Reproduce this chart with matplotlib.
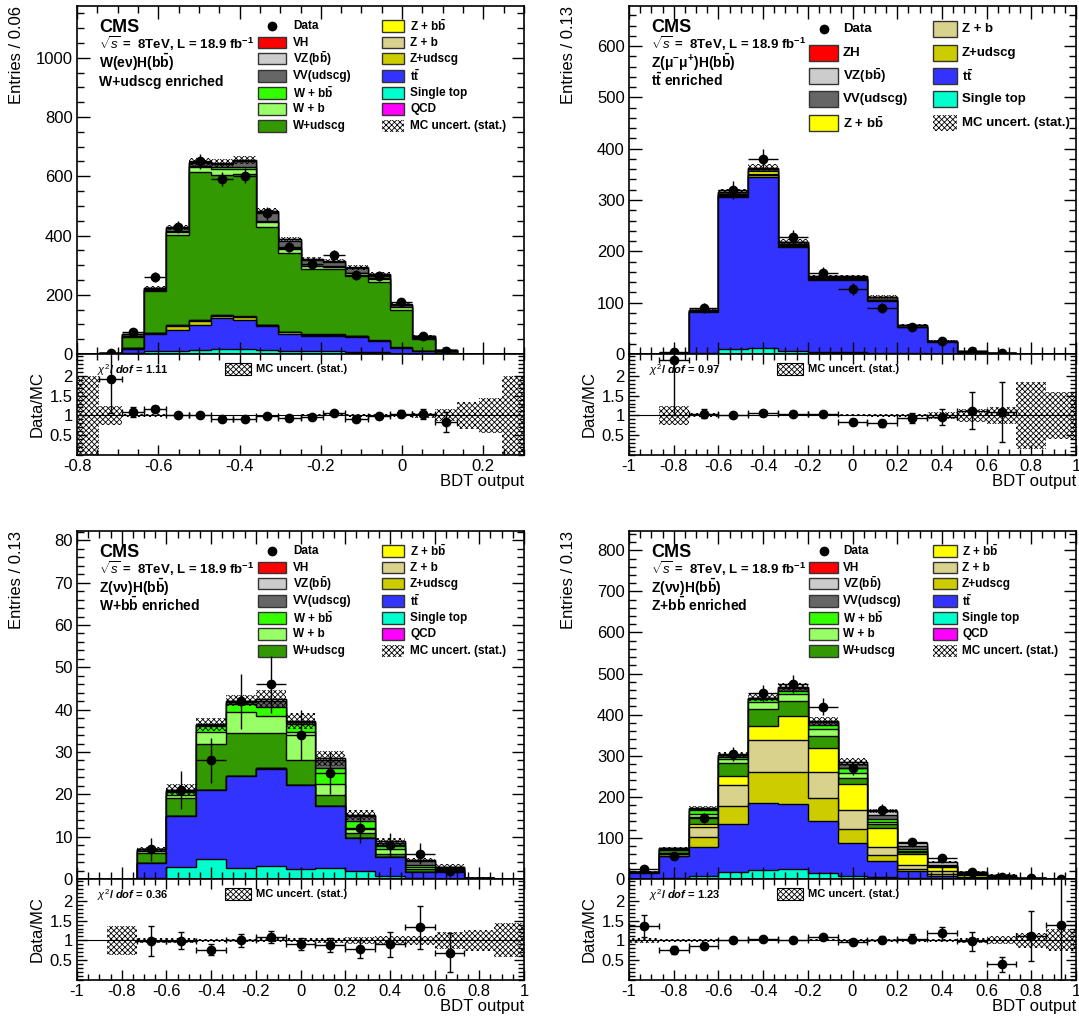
import matplotlib.pyplot as plt
import numpy as np
from matplotlib.patches import Rectangle
from matplotlib.ticker import MultipleLocator, FixedLocator, FuncFormatter

plt.rcParams['font.family'] = ['Liberation Sans', 'DejaVu Sans']
plt.rcParams['mathtext.fontset'] = 'custom'
plt.rcParams['mathtext.rm'] = 'Liberation Sans'
plt.rcParams['mathtext.it'] = 'Liberation Sans:italic'
plt.rcParams['mathtext.bf'] = 'Liberation Sans:bold'
plt.rcParams['mathtext.bfit'] = 'Liberation Sans:italic:bold'
plt.rcParams['hatch.linewidth'] = 0.6

# ---------------- data ----------------
# top-left: W(enu)H, W+udscg enriched (20 bins, -0.8 .. 0.3)
tl_edges = np.linspace(-0.8, 0.3, 21)
tl_st = [0.05, 0.3, 2, 9, 11, 12, 16, 18, 14, 9, 9, 9, 7, 6, 1, 0.5, 0.2, 0.05, 0.02, 0.01]
tl_tt = [0.1, 1.0, 16, 59, 71, 87, 104, 98, 80, 60, 51, 51, 49, 37, 19, 8, 2, 0.3, 0.1, 0.04]
tl_zu = [0, 0.1, 1, 3, 12, 12, 9, 8, 4, 4, 4, 4, 4, 2, 1, 0.6, 0.2, 0.05, 0.02, 0]
tl_zb = [0, 0, 0, 1, 3, 3, 2, 2, 0.5, 1, 1, 1, 1, 0.5, 0.5, 0.2, 0.05, 0, 0, 0]
tl_zbb = [0, 0, 0, 0, 2, 2, 2, 1, 0.5, 1, 1, 1, 1, 0.5, 0.5, 0.2, 0.05, 0, 0, 0]
tl_wu = [0.05, 0.8, 37, 140, 302, 498, 473, 481, 331, 267, 222, 220, 201, 198, 128, 42, 9, 0.35, 0.15, 0.05]
tl_wb = [0, 0.1, 5, 5, 12, 18, 20, 18, 16, 12, 8, 8, 9, 10, 8, 4, 0.5, 0.05, 0, 0]
tl_wbb = [0, 0, 1, 1, 3, 4, 4, 4, 4, 3, 2, 2, 3, 3, 2, 1, 0.2, 0, 0, 0]
tl_vv = [0, 0.2, 4, 5, 8, 10, 12, 20, 28, 25, 18, 15, 14, 10, 6, 3, 0.8, 0.05, 0.01, 0]
tl_vz = [0, 0.1, 1, 1, 2, 2, 3, 5, 6, 6, 4, 3, 3, 2, 1, 0.5, 0.1, 0, 0, 0]
tl_vh = [0, 0, 0, 0, 0.5, 0.5, 0.5, 0.5, 0.5, 0.5, 0.5, 0.5, 0.5, 0.3, 0.3, 0.2, 0.05, 0, 0, 0]
tl_data = [0, 5, 73, 260, 428, 650, 591, 602, 475, 362, 305, 333, 266, 263, 175, 62, 11, 0, 0, 0]
tl_rel = [1.0, 0.235, 0.03, 0.03, 0.02, 0.02, 0.02, 0.02, 0.02, 0.02, 0.025, 0.025, 0.03, 0.03,
          0.03, 0.07, 0.15, 0.35, 0.45, 1.0]

# top-right: Z(mumu)H, ttbar enriched (15 bins, -1 .. 1)
edges15 = np.linspace(-1, 1, 16)
tr_st = [0, 0, 1, 10, 12, 6.5, 4.5, 4.5, 2.5, 1.5, 0.5, 0.1, 0, 0, 0]
tr_tt = [0, 0.95, 80.5, 296, 333, 202.5, 140.5, 140.5, 101.5, 50.5, 23.5, 4.4, 1.5, 0.2, 0.05]
tr_zu = [0, 0, 1, 2, 3, 1.5, 1, 1, 0.5, 0.3, 0.1, 0, 0, 0, 0]
tr_zb = [0, 0, 0.5, 1.5, 2, 1, 0.5, 0.5, 0.3, 0.2, 0.1, 0, 0, 0, 0]
tr_zbb = [0, 0.1, 0.5, 3, 6, 3, 1, 1, 0.7, 0.5, 0.3, 0.2, 0, 0, 0]
tr_vv = [0, 0.2, 1.5, 3, 5, 3, 3, 3, 5, 3, 1.2, 0.5, 0.2, 0.1, 0.05]
tr_vz = [0, 0, 0.3, 0.5, 1, 0.5, 0.5, 0.5, 0.5, 0.5, 0.3, 0.1, 0.1, 0, 0]
tr_zh = [0, 0, 0, 0, 0, 0, 0, 0, 0.1, 0.1, 0.1, 0.05, 0.05, 0, 0]
tr_data = [0, 3, 89, 320, 380, 227, 157, 127, 89, 53, 25, 6, 2, 0, 0]
tr_rel = [0, 0.23, 0.05, 0.02, 0.02, 0.025, 0.025, 0.025, 0.03, 0.04, 0.08, 0.17, 0.21, 0.85, 0.6]

# bottom-left: Z(nunu)H, W+bb enriched
bl_st = [0, 0, 0.3, 2.9, 4.7, 2.6, 3.0, 2.4, 2.7, 1.8, 0.8, 0.2, 0.05, 0, 0]
bl_tt = [0, 0.05, 3.4, 12.0, 16.3, 21.7, 23.1, 19.7, 14.5, 7.8, 4.3, 1.5, 1.55, 0.15, 0.05]
bl_zu = [0, 0, 0, 0, 0.1, 0.1, 0.1, 0.1, 0.1, 0.1, 0.05, 0, 0, 0, 0]
bl_zb = [0] * 15
bl_zbb = [0] * 15
bl_wu = [0, 0.05, 2.4, 4.3, 10.8, 10.0, 8.3, 5.9, 2.6, 1.2, 0.75, 0.7, 0.6, 0.05, 0]
bl_wb = [0, 0, 0.4, 0.6, 2.9, 5.0, 4.1, 6.7, 2.6, 1.0, 1.1, 0.4, 0.2, 0, 0]
bl_wbb = [0, 0, 0.2, 0.7, 1.3, 1.9, 2.1, 1.7, 3.7, 1.9, 0.7, 0.5, 0.1, 0, 0]
bl_vv = [0, 0, 0.3, 0.4, 0.3, 0.6, 1.4, 0.6, 1.8, 1.1, 0.9, 0.9, 0.3, 0.1, 0.05]
bl_vz = [0, 0, 0.1, 0.2, 0.1, 0.2, 0.4, 0.2, 0.5, 0.3, 0.3, 0.3, 0.1, 0, 0]
bl_vh = [0] * 15
bl_data = [0, 0, 7, 21, 28, 42, 46, 34, 25, 12, 8, 6, 2, 0, 0]
bl_rel = [0, 0.37, 0.07, 0.06, 0.04, 0.03, 0.05, 0.05, 0.06, 0.08, 0.1, 0.12, 0.22, 0.27, 0.43]

# bottom-right: Z(nunu)H, Z+bb enriched
br_st = [0.5, 2.4, 6.5, 16, 23, 24.4, 14, 8, 5.7, 3, 1, 0.3, 0, 0, 0]
br_tt = [13.5, 54.6, 70.5, 118, 162, 157.6, 127, 80, 39.3, 16, 5.5, 1.7, 1, 0.3, 0.1]
br_zu = [0.5, 3, 25, 43, 76, 79, 55, 34, 14, 5, 5.5, 1.5, 1, 0.3, 0]
br_zb = [0.5, 2, 24, 53, 77, 77, 65, 47, 18, 10, 8, 2, 1.5, 0.4, 0.1]
br_zbb = [0.5, 1, 8.4, 21, 35, 59, 59, 63, 48, 27, 8.5, 3.5, 2, 0.6, 0.2]
br_wu = [1, 8, 16.6, 32.5, 40, 37, 29, 15, 8, 4, 1.5, 1, 0.5, 0, 0]
br_wb = [0, 2, 8, 9.5, 17, 16.5, 16, 10, 5.5, 4, 0.5, 0.5, 0, 0, 0]
br_wbb = [0, 1, 8, 4, 7.5, 7.5, 11, 12, 8.5, 4, 0.5, 0.5, 0, 0, 0]
br_vv = [0.7, 1.5, 4, 4, 3, 6, 5, 10, 8, 7, 4, 3, 2, 0.5, 0.15]
br_vz = [0.3, 0.5, 2, 2, 1, 3, 4, 5, 10, 7, 7, 3, 2, 0.5, 0.12]
br_vh = [0, 0, 0, 0, 0, 0, 0, 0, 0.5, 0.5, 0.5, 0.3, 0.2, 0.1, 0.05]
br_data = [24, 57, 149, 305, 452, 474, 419, 269, 169, 91, 50, 17, 4, 3, 1]
br_rel = [0.07, 0.04, 0.03, 0.02, 0.02, 0.02, 0.025, 0.035, 0.03, 0.03, 0.04, 0.06, 0.1, 0.18, 0.28]

colors = {'st': '#00ffcc', 'tt': '#3333ff', 'zu': '#cccc00', 'zb': '#d9d28c', 'zbb': '#ffff00',
          'wu': '#339900', 'wb': '#99ff66', 'wbb': '#33ff00', 'vv': '#666666', 'vz': '#cccccc',
          'vh': '#ff0000', 'qcd': '#ff00ff'}

BB = r'$\mathbf{b\bar{b}}$'
TT = r'$\mathbf{t\bar{t}}$'
labels = {'vh': 'VH', 'vz': 'VZ(' + BB + ')', 'vv': 'VV(udscg)', 'wbb': 'W + ' + BB,
          'wb': 'W + b', 'wu': 'W+udscg', 'zbb': 'Z + ' + BB, 'zb': 'Z + b', 'zu': 'Z+udscg',
          'tt': TT, 'st': 'Single top', 'qcd': 'QCD', 'zh': 'ZH'}

fmt = FuncFormatter(lambda v, p: '%g' % (round(v, 2) + 0.0))


def style(a, labelsize=12):
    a.tick_params(which='both', direction='in', top=True, right=True, labelsize=labelsize, pad=3)
    a.tick_params(which='major', length=9, width=1)
    a.tick_params(which='minor', length=5, width=1)
    for s in a.spines.values():
        s.set_linewidth(1.2)


def draw_panel(rect_main, rect_ratio, edges, stack, data, rel, ylim, ymajor, yminor, ylabel,
               info, chi2, legend, big_legend=False):
    data = np.array(data, float)
    rel = np.array(rel, float)
    ax = fig.add_axes(rect_main)
    rax = fig.add_axes(rect_ratio, sharex=ax)

    total = np.zeros(len(edges) - 1)
    cums = []
    for key, vals in stack:
        total = total + np.array(vals, float)
        cums.append((key, total.copy()))
    for key, cum in reversed(cums):
        ax.stairs(cum, edges, baseline=0, fill=True, facecolor=colors[key],
                  edgecolor='black', linewidth=1.0)
    ax.stairs(total * (1 + rel), edges, baseline=total * (1 - rel), fill=True,
              facecolor='none', edgecolor='black', hatch='xxxxxx', linewidth=0)

    centers = 0.5 * (edges[1:] + edges[:-1])
    half = 0.5 * np.diff(edges)
    m = data > 0
    ax.errorbar(centers[m], data[m], xerr=half[m], yerr=np.sqrt(data[m]), fmt='o', color='black',
                ms=6, lw=1, capsize=0, zorder=5)

    ax.set_xlim(edges[0], edges[-1])
    ax.set_ylim(*ylim)
    ax.yaxis.set_major_locator(MultipleLocator(ymajor))
    ax.yaxis.set_minor_locator(MultipleLocator(yminor))
    ax.xaxis.set_major_locator(MultipleLocator(0.2))
    ax.xaxis.set_minor_locator(MultipleLocator(0.05))
    style(ax)
    ax.tick_params(labelbottom=False)
    ax.set_ylabel(ylabel, fontsize=12, loc='top')
    ax.yaxis.set_label_coords(-0.118, 1.0)

    # info text
    ax.text(0.05, 0.925, 'CMS', transform=ax.transAxes, fontsize=13, weight='bold')
    ax.text(0.05, 0.876, r'$\sqrt{s}$ =  8TeV, L = 18.9 fb$^{\mathbf{-1}}$', transform=ax.transAxes,
            fontsize=9.5, weight='bold')
    ax.text(0.05, 0.822, info[0], transform=ax.transAxes, fontsize=10, weight='bold')
    ax.text(0.05, 0.770, info[1], transform=ax.transAxes, fontsize=10, weight='bold')

    # legend (drawn by hand, two columns)
    if big_legend:
        rows = [0.934, 0.865, 0.799, 0.733, 0.664]
        bh, fs = 0.046, 9.5
    else:
        rows = [0.9425, 0.894, 0.848, 0.799, 0.75, 0.704, 0.655]
        bh, fs = 0.032, 8.5
    cols = legend['cols']
    for ci, col in enumerate(legend['entries']):
        x0, x1, xt = cols[ci]
        for ri, key in enumerate(col):
            y = rows[ri]
            if key == 'data':
                ax.plot([(x0 + x1) / 2], [y], 'o', color='black', ms=6, transform=ax.transAxes)
                lab = 'Data'
            elif key == 'unc':
                ax.add_patch(Rectangle((x0, y - bh / 2), x1 - x0, bh, transform=ax.transAxes,
                                       facecolor='white', edgecolor='black', hatch='xxxxxx', lw=0))
                lab = 'MC uncert. (stat.)'
            else:
                ax.add_patch(Rectangle((x0, y - bh / 2), x1 - x0, bh, transform=ax.transAxes,
                                       facecolor=colors['vh' if key == 'zh' else key],
                                       edgecolor='#333333', lw=1))
                lab = labels[key]
            ax.text(xt, y, lab, transform=ax.transAxes, fontsize=fs, weight='bold', va='center')

    # ratio
    ok = (data > 0) & (total > 0)
    rax.stairs(1 + rel, edges, baseline=1 - rel, fill=True, facecolor='none', edgecolor='black',
               hatch='xxxxxx', linewidth=0)
    rax.axhline(1, color='black', lw=0.8)
    rax.errorbar(centers[ok], data[ok] / total[ok], xerr=half[ok],
                 yerr=np.sqrt(data[ok]) / total[ok], fmt='o', color='black', ms=6, lw=1,
                 capsize=2, zorder=5)
    rax.set_ylim(0, 2.55)
    rax.yaxis.set_major_locator(FixedLocator([0.5, 1, 1.5, 2]))
    rax.yaxis.set_minor_locator(MultipleLocator(0.1))
    rax.yaxis.set_major_formatter(fmt)
    rax.xaxis.set_major_formatter(fmt)
    style(rax)
    rax.tick_params(which='major', length=7)
    rax.tick_params(which='minor', length=4)
    rax.set_ylabel('Data/MC', fontsize=12)
    rax.yaxis.set_label_coords(-0.072, 0.5)
    rax.set_xlabel('BDT output', fontsize=12, loc='right')
    rax.xaxis.set_label_coords(1.0, -0.19)
    rax.text(0.045, 0.80, r'$\chi^{2}$/ $\mathbfit{dof}$ = ' + chi2, transform=rax.transAxes,
             fontsize=8, weight='bold')
    rax.add_patch(Rectangle((0.33, 0.79), 0.06, 0.12, transform=rax.transAxes, facecolor='white',
                            edgecolor='black', hatch='xxxxxx', lw=0.8))
    rax.text(0.40, 0.85, 'MC uncert. (stat.)', transform=rax.transAxes, fontsize=8, weight='bold',
             va='center')
    return ax, rax


fig = plt.figure(figsize=(10.79, 10.19), dpi=100)

W = 447 / 1079
L1, L2 = 77 / 1079, 629 / 1079
MH, RH = 348 / 1019, 101 / 1019
top_main_b, top_ratio_b = 1 - 354 / 1019, 1 - 455 / 1019
bot_main_b, bot_ratio_b = 1 - 879 / 1019, 1 - 980 / 1019

left_cols = [(0.405, 0.4676, 0.483), (0.682, 0.7315, 0.745)]
right_cols = [(0.4027, 0.4676, 0.4787), (0.680, 0.7338, 0.745)]
full_legend = [['data', 'vh', 'vz', 'vv', 'wbb', 'wb', 'wu'],
               ['zbb', 'zb', 'zu', 'tt', 'st', 'qcd', 'unc']]

stack_tl = [('st', tl_st), ('tt', tl_tt), ('zu', tl_zu), ('zb', tl_zb), ('zbb', tl_zbb),
            ('wu', tl_wu), ('wb', tl_wb), ('wbb', tl_wbb), ('vv', tl_vv), ('vz', tl_vz), ('vh', tl_vh)]
draw_panel([L1, top_main_b, W, MH], [L1, top_ratio_b, W, RH], tl_edges, stack_tl, tl_data, tl_rel,
           (0, 1175), 200, 50, 'Entries / 0.06',
           [r'W(e$\mathbf{\nu}$)H(' + BB + ')', 'W+udscg enriched'], '1.11',
           {'cols': left_cols, 'entries': full_legend})

stack_tr = [('st', tr_st), ('tt', tr_tt), ('zu', tr_zu), ('zb', tr_zb), ('zbb', tr_zbb),
            ('vv', tr_vv), ('vz', tr_vz), ('vh', tr_zh)]
draw_panel([L2, top_main_b, W, MH], [L2, top_ratio_b, W, RH], edges15, stack_tr, tr_data, tr_rel,
           (0, 678), 100, 20, 'Entries / 0.13',
           [r'Z($\mathbf{\mu^{-}\mu^{+}}$)H(' + BB + ')', TT + ' enriched'], '0.97',
           {'cols': right_cols, 'entries': [['data', 'zh', 'vz', 'vv', 'zbb'],
                                            ['zb', 'zu', 'tt', 'st', 'unc']]},
           big_legend=True)

stack_bl = [('st', bl_st), ('tt', bl_tt), ('zu', bl_zu), ('zb', bl_zb), ('zbb', bl_zbb),
            ('wu', bl_wu), ('wb', bl_wb), ('wbb', bl_wbb), ('vv', bl_vv), ('vz', bl_vz), ('vh', bl_vh)]
draw_panel([L1, bot_main_b, W, MH], [L1, bot_ratio_b, W, RH], edges15, stack_bl, bl_data, bl_rel,
           (0, 82.2), 10, 2, 'Entries / 0.13',
           [r'Z($\mathbf{\nu\nu}$)H(' + BB + ')', 'W+' + BB + ' enriched'], '0.36',
           {'cols': left_cols, 'entries': full_legend})

stack_br = [('st', br_st), ('tt', br_tt), ('zu', br_zu), ('zb', br_zb), ('zbb', br_zbb),
            ('wu', br_wu), ('wb', br_wb), ('wbb', br_wbb), ('vv', br_vv), ('vz', br_vz), ('vh', br_vh)]
draw_panel([L2, bot_main_b, W, MH], [L2, bot_ratio_b, W, RH], edges15, stack_br, br_data, br_rel,
           (0, 847), 100, 20, 'Entries / 0.13',
           [r'Z($\mathbf{\nu\nu}$)H(' + BB + ')', 'Z+' + BB + ' enriched'], '1.23',
           {'cols': right_cols, 'entries': full_legend})

fig.savefig('out.png', dpi=100)
